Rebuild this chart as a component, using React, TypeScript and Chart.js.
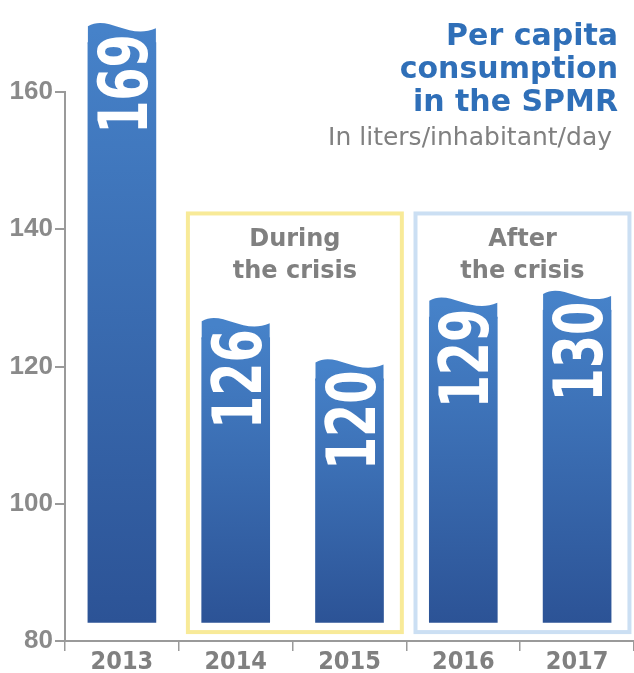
import React, { useEffect, useRef } from "react";
import { Chart, registerables } from "chart.js";

Chart.register(...registerables);

// ---- data ----
const CATEGORIES = ["2013", "2014", "2015", "2016", "2017"];
const CONSUMPTION = [169, 126, 120, 129, 130];
const Y_MIN = 80;
const Y_MAX = 160;
const Y_STEP = 20;
const BAR_BASE = 82.7;
const TITLE_LINES = ["Per capita", "consumption", "in the SPMR"];
const SUBTITLE = "In liters/inhabitant/day";
const PERIOD_LABELS = [
  ["During", "the crisis"],
  ["After", "the crisis"],
];
const PERIOD_RANGES = [
  [1, 2],
  [3, 4],
];
const PERIOD_TOP_VALUE = 142.3;
const PERIOD_BOTTOM_VALUE = 81.3;

// ---- styles ----
const GRAY_AXIS = "#9a9a9a";
const GRAY_TEXT = "#808080";
const TITLE_BLUE = "#2f6fb8";
const BAR_TOP = "#4682c9";
const BAR_BOTTOM = "#2c5396";
const PERIOD_COLORS = ["#f8ea98", "#cbdff3"];

function barGradient(ctx: CanvasRenderingContext2D, top: number, bottom: number) {
  const g = ctx.createLinearGradient(0, top, 0, bottom);
  g.addColorStop(0, BAR_TOP);
  g.addColorStop(1, BAR_BOTTOM);
  return g;
}

const decorPlugin = {
  id: "decor",
  beforeDatasetsDraw(chart: any) {
    const { ctx } = chart;
    const xs = chart.scales.x;
    const ys = chart.scales.y;
    const cw = (chart.chartArea.right - chart.chartArea.left) / CATEGORIES.length;
    ctx.save();
    PERIOD_RANGES.forEach((r, i) => {
      const left = xs.getPixelForValue(r[0]) - 0.42 * cw;
      const right = xs.getPixelForValue(r[1]) + 0.46 * cw;
      const top = ys.getPixelForValue(PERIOD_TOP_VALUE);
      const bottom = ys.getPixelForValue(PERIOD_BOTTOM_VALUE);
      ctx.strokeStyle = PERIOD_COLORS[i];
      ctx.lineWidth = 4;
      ctx.strokeRect(left, top, right - left, bottom - top);
      ctx.fillStyle = GRAY_TEXT;
      ctx.font = "bold 24px 'DejaVu Sans'";
      ctx.textAlign = "center";
      ctx.textBaseline = "alphabetic";
      const cx = (left + right) / 2;
      PERIOD_LABELS[i].forEach((t, j) => {
        ctx.fillText(t, cx, top + 33 + j * 32);
      });
    });
    ctx.restore();
  },
  afterDatasetsDraw(chart: any) {
    const { ctx } = chart;
    const meta = chart.getDatasetMeta(0);
    const ys = chart.scales.y;
    ctx.save();
    meta.data.forEach((bar: any, i: number) => {
      const w = bar.width;
      const left = bar.x - w / 2;
      const right = bar.x + w / 2;
      const y = bar.y;
      const baseY = ys.getPixelForValue(BAR_BASE);
      // clear the flat top
      ctx.fillStyle = "#ffffff";
      ctx.fillRect(left - 1, y - 16, w + 2, 28);
      // wavy top
      ctx.beginPath();
      ctx.moveTo(left, y + 14);
      ctx.lineTo(left, y - 4);
      ctx.bezierCurveTo(left + 0.3 * w, y - 16, left + 0.6 * w, y + 10, right, y - 2);
      ctx.lineTo(right, y + 14);
      ctx.closePath();
      ctx.fillStyle = barGradient(ctx, y, baseY);
      ctx.fill();
      // value label
      ctx.save();
      ctx.translate(bar.x, y + 4);
      ctx.rotate(-Math.PI / 2);
      ctx.scale(0.78, 1);
      ctx.fillStyle = "#ffffff";
      ctx.font = "bold 68px 'DejaVu Sans Condensed', 'DejaVu Sans'";
      ctx.textAlign = "right";
      ctx.textBaseline = "alphabetic";
      ctx.fillText(String(CONSUMPTION[i]), 0, 25);
      ctx.restore();
    });
    ctx.restore();
  },
  afterDraw(chart: any) {
    const { ctx } = chart;
    ctx.save();
    ctx.fillStyle = TITLE_BLUE;
    ctx.font = "bold 30px 'DejaVu Sans'";
    ctx.textAlign = "right";
    ctx.textBaseline = "alphabetic";
    TITLE_LINES.forEach((t, j) => ctx.fillText(t, 618, 45 + j * 33));
    ctx.fillStyle = GRAY_TEXT;
    ctx.font = "25px 'DejaVu Sans'";
    ctx.fillText(SUBTITLE, 612, 145);
    ctx.restore();
  },
};

export default function App() {
  const ref = useRef<HTMLCanvasElement | null>(null);
  useEffect(() => {
    if (!ref.current) return;
    const chart = new Chart(ref.current, {
      type: "bar",
      data: {
        labels: CATEGORIES,
        datasets: [
          {
            label: "Per capita consumption",
            data: CONSUMPTION,
            base: BAR_BASE,
            barThickness: 68,
            clip: false as any,
            borderWidth: 0,
            backgroundColor: (c: any) => {
              const chart = c.chart;
              if (!chart.chartArea || c.raw == null) return BAR_TOP;
              const ys = chart.scales.y;
              return barGradient(
                chart.ctx,
                ys.getPixelForValue(c.raw),
                ys.getPixelForValue(BAR_BASE)
              );
            },
          },
        ],
      },
      options: {
        animation: false,
        responsive: true,
        maintainAspectRatio: false,
        layout: { padding: { top: 92, left: 0, right: 0, bottom: 0 } },
        plugins: {
          legend: { display: false },
          tooltip: { enabled: false },
          title: { display: false },
        },
        scales: {
          x: {
            afterFit: (s: any) => {
              s.height = 32;
            },
            grid: {
              offset: true,
              drawOnChartArea: false,
              tickLength: 10,
              color: GRAY_AXIS,
              lineWidth: 1.5,
            },
            border: { display: true, color: GRAY_AXIS, width: 2 },
            ticks: {
              color: GRAY_TEXT,
              padding: -4,
              font: { family: "'DejaVu Sans Condensed', 'DejaVu Sans'", size: 25, weight: "bold" },
            },
          },
          y: {
            min: Y_MIN,
            max: Y_MAX,
            afterFit: (s: any) => {
              s.width = 65;
            },
            grid: {
              drawOnChartArea: false,
              tickLength: 10,
              color: GRAY_AXIS,
              lineWidth: 2,
            },
            border: { display: true, color: GRAY_AXIS, width: 2 },
            ticks: {
              stepSize: Y_STEP,
              color: "#8a8a8a",
              padding: 2,
              font: { family: "'Liberation Sans'", size: 26, weight: "bold" },
            },
          },
        },
      },
      plugins: [decorPlugin],
    });
    return () => chart.destroy();
  }, []);
  return (
    <div style={{ position: "absolute", left: 0, top: 0, width: 634, height: 673 }}>
      <canvas ref={ref} />
    </div>
  );
}
